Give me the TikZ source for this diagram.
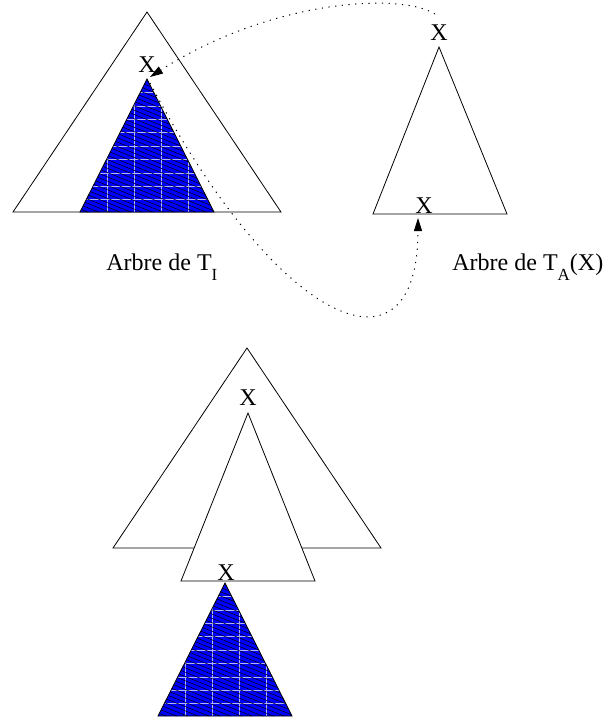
\documentclass[tikz,border=0pt]{standalone}
\usepackage{fontspec}
\setmainfont{Liberation Serif}
\usetikzlibrary{arrows.meta}
% indice bas, colle au T
\newcommand{\indice}[1]{\lower10pt\hbox{\fontsize{17}{17}\selectfont #1}}
% sous-arbre bleu hachure, sommet en (#1,#2)
\newcommand{\arbrebleu}[2]{%
  \begin{scope}
    \clip (#1,#2) -- ++(-67,133) -- ++(134,0) -- cycle;
    \fill[blue] (#1-70,#2-2) rectangle (#1+70,#2+136);
    \foreach \k in {0,...,5} {\draw[blue!30!white, line width=0.5pt] (#1-67+\k*27,#2) -- ++(0,134);}
    \foreach \k in {1,...,9} {\draw[blue!30!white, line width=0.5pt] (#1-70,#2+\k*13.4) -- ++(140,0);}
    \foreach \k in {-16,...,32} {\draw[black, line width=0.5pt] (#1-80,#2+\k*4.3) -- ++(160,64);}
  \end{scope}
  \draw (#1,#2) -- ++(-67,133) -- ++(134,0) -- cycle;}
\begin{document}
\begin{tikzpicture}[x=1pt, y=-1pt, line width=0.8pt,
    lbl/.style={inner sep=0pt, anchor=base, font=\fontsize{24}{28}\selectfont},
    titre/.style={lbl, anchor=base west},
    fleche/.style={dash pattern=on 1.2pt off 5.5pt, line width=1pt, -{Triangle[length=13pt,width=8pt]}}]
    \useasboundingbox (0,0) rectangle (612,720);
    % Arbre de T_I
    \draw (147,12) -- (13,212) -- (281,212) -- cycle;
    \arbrebleu{147}{79}
    \node[lbl] (xI) at (147,72) {X};
    \coordinate (sommetI) at (150,77);
    \coordinate (departI) at (150,83);
    \node[titre] (titreI) at (106,270) {Arbre de T\indice{I}};
    % Arbre de T_A(X)
    \draw (439,47) -- (373,214) -- (507,214) -- cycle;
    \node[lbl] (xHaut) at (439,40) {X};
    \node[lbl] (xBas) at (424,213) {X};
    \coordinate (departA) at (435,14);
    \coordinate (sousX) at (418,218);
    \node[titre] (titreA) at (452,270) {Arbre de T\indice{A}(X)};
    % fleches pointillees
    \draw[fleche] (departA) .. controls (400,-8) and (270,0) .. (sommetI);
    \draw[fleche] (departI) .. controls (280,330) and (418,385) .. (sousX);
    % resultat de la greffe
    \draw (247,348) -- (113,548) -- (381,548) -- cycle;
    \draw[fill=white] (248,413) -- (181,581) -- (315,581) -- cycle;
    \node[lbl] (xGreffe) at (248,405) {X};
    \node[lbl] (xFeuille) at (226,580) {X};
    \arbrebleu{225}{583}
\end{tikzpicture}
\end{document}
